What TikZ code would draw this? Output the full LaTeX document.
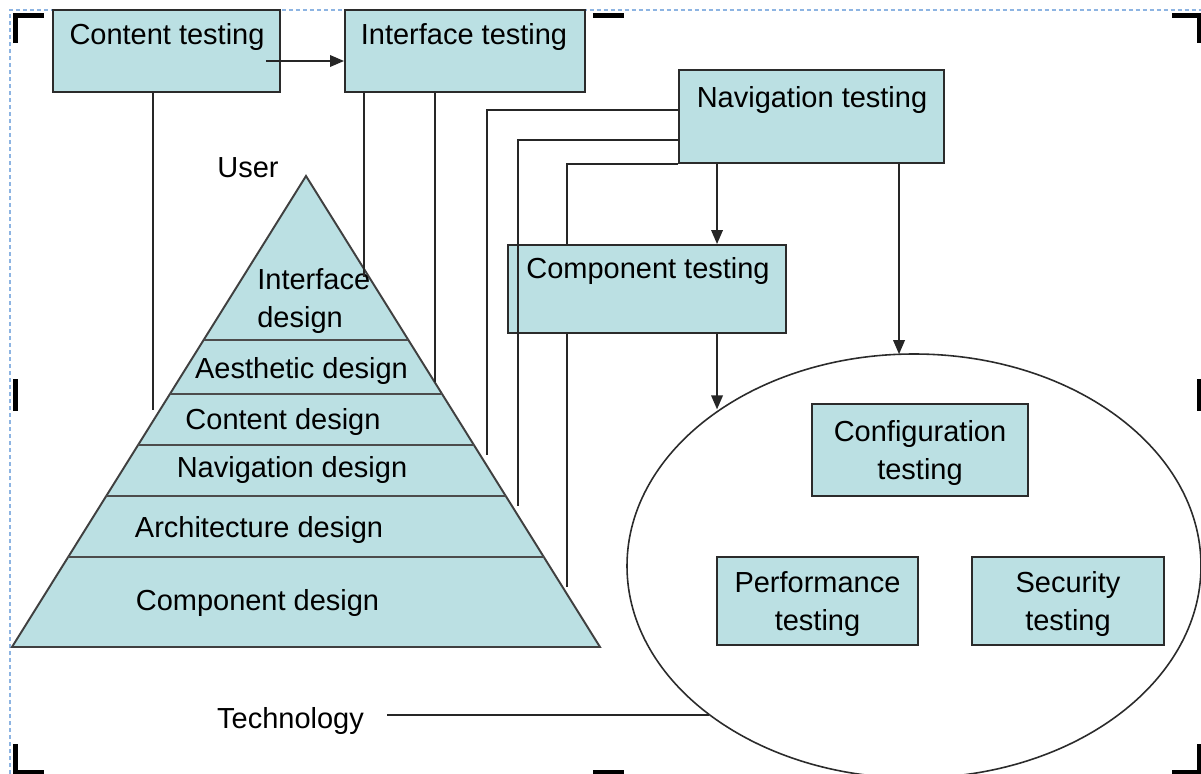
\documentclass[tikz,border=0pt]{standalone}
\usepackage{fontspec}
\setmainfont{Liberation Sans}
\usepackage{xcolor}
\usepackage{tikz}
\usetikzlibrary{arrows.meta, calc, shapes.geometric}
\definecolor{boxfill}{HTML}{BBE0E3}
\definecolor{boxline}{HTML}{2B2B2B}
\definecolor{selblue}{HTML}{8DB4E2}
\newcommand{\unitpx}{0.02cm}
\newcommand{\labelfont}{\fontsize{16.5}{21.5}\selectfont}
\tikzset{
  tbox/.style={
    draw=boxline,
    line width=1.1pt,
    fill=boxfill,
    inner sep=0pt
  },
  lbl/.style={
    font=\labelfont,
    inner sep=0pt,
    align=center
  },
  freelbl/.style={lbl, yshift=-3*\unitpx},
  boxlbl/.style={lbl, text depth=0pt},
  conn/.style={draw=black!85, line width=1.1pt},
  arr/.style={conn, -{Triangle[length=0.28cm, width=0.23cm]}},
  pyramid/.style={draw=black!75, line width=1.1pt, fill=boxfill, line join=miter},
  layerline/.style={draw=black!70, line width=1.4pt},
  selframe/.style={draw=selblue, line width=0.6pt, dash pattern=on 0.08cm off 0.06cm},
  cropmark/.style={draw=black, line width=5*\unitpx, line join=miter}
}

\begin{document}
\begin{tikzpicture}[x=0.02cm, y=-0.02cm]

  \useasboundingbox (0,0) rectangle (1201,774);
  \fill[white] (0,0) rectangle (1201,774);

  % ====== SELECTION FRAME ======
  \draw[selframe] (10,774) -- (10,10) -- (1201,10);
  \draw[cropmark] (15,43) -- (15,15) -- (44,15);
  \draw[cropmark] (593,15) -- (624,15);
  \draw[cropmark] (1172,15) -- (1199,15) -- (1199,43);
  \draw[cropmark] (15,379) -- (15,411);
  \draw[cropmark] (1199,379) -- (1199,411);
  \draw[cropmark] (15,744) -- (15,772) -- (44,772);
  \draw[cropmark] (593,772) -- (624,772);
  \draw[cropmark] (1172,772) -- (1199,772) -- (1199,744);

  % ====== DESIGN PYRAMID ======
  \coordinate (apex) at (306,176);
  \coordinate (bl) at (12,647);
  \coordinate (br) at (600,647);
  \draw[pyramid] (apex) -- (bl) -- (br) -- cycle;
  \foreach \t in {0.348, 0.463, 0.571, 0.679, 0.809}
    \draw[layerline] ($(apex)!\t!(bl)$) -- ($(apex)!\t!(br)$);

  \node[freelbl] (user) at (248,165) {User};
  \node[freelbl, anchor=west, align=left] (ifdes) at (257,298) {Interface\\design};
  \node[freelbl] (aedes) at (301.5,368) {Aesthetic design};
  \node[freelbl] (codes) at (283,419) {Content design};
  \node[freelbl] (nades) at (292,467) {Navigation design};
  \node[freelbl] (ardes) at (259,527) {Architecture design};
  \node[freelbl] (cpdes) at (257.5,600) {Component design};
  \node[freelbl] (tech) at (290.5,718) {Technology};

  % ====== TESTING BOXES ======
  \node[tbox, minimum width=227*\unitpx, minimum height=82*\unitpx] (ctest) at (166.5,51) {};
  \node[freelbl] (ctestl) at (167,34) {Content testing};

  \node[tbox, minimum width=240*\unitpx, minimum height=82*\unitpx] (itest) at (465,51) {};
  \node[freelbl] (itestl) at (464,34) {Interface testing};

  \node[tbox, minimum width=265*\unitpx, minimum height=93*\unitpx] (ntest) at (811.5,116.5) {};
  \node[freelbl] (ntestl) at (812,97) {Navigation testing};

  \node[tbox, minimum width=278*\unitpx, minimum height=88*\unitpx] (comptest) at (647,289) {};
  \node[freelbl] (comptestl) at (648,268) {Component testing};

  % ====== ENVIRONMENT ELLIPSE ======
  \node[draw=boxline, line width=0.9pt, ellipse, inner sep=0pt, outer sep=0pt,
        minimum width=574*\unitpx, minimum height=424*\unitpx] (env) at (914,566) {};

  \node[tbox, boxlbl, minimum width=216*\unitpx, minimum height=92*\unitpx] (conftest) at (920,450) {Configuration\\testing};
  \node[tbox, boxlbl, minimum width=201*\unitpx, minimum height=88*\unitpx] (perftest) at (817.5,601) {Performance\\testing};
  \node[tbox, boxlbl, minimum width=192*\unitpx, minimum height=88*\unitpx] (sectest) at (1068,601) {Security\\testing};

  % ====== CONNECTORS ======
  % content testing -> interface testing
  \coordinate (cstart) at ([shift={(-15,10)}]ctest.east);
  \draw[arr] (cstart) -- (cstart -| itest.west);

  % testing boxes down to the design layers
  \coordinate (cend) at (153,410);
  \draw[conn] (ctest.south -| cend) -- (cend);
  \coordinate (iend1) at (364,277);
  \coordinate (iend2) at (435,382);
  \draw[conn] (itest.south -| iend1) -- (iend1);
  \draw[conn] (itest.south -| iend2) -- (iend2);

  \coordinate (nend1) at (487,455);
  \coordinate (nend2) at (518,506);
  \coordinate (nend3) at (567,587);
  \draw[conn] ($(ntest.north west)+(0,41)$) -| (nend1);
  \draw[conn] ($(ntest.north west)+(0,71)$) -| (nend2);
  \draw[conn] (ntest.south west) -| (comptest.north -| nend3);
  \draw[conn] (comptest.south -| nend3) -- (nend3);

  % arrows into component testing and the environment
  \coordinate (navdrop) at ([xshift=39*\unitpx]ntest.south west);
  \draw[arr] (navdrop) -- (navdrop |- comptest.north);
  \coordinate (navdrop2) at ([xshift=221*\unitpx]ntest.south west);
  \draw[arr] (navdrop2) -- (navdrop2 |- env.93.8);
  \coordinate (compdrop) at ([xshift=210*\unitpx]comptest.south west);
  \draw[arr] (compdrop) -- (compdrop |- env.141.7);

  % technology line
  \coordinate (techl) at ([xshift=23*\unitpx]tech.east);
  \draw[conn] (env.216.5) -- (env.216.5 -| techl);

\end{tikzpicture}
\end{document}
